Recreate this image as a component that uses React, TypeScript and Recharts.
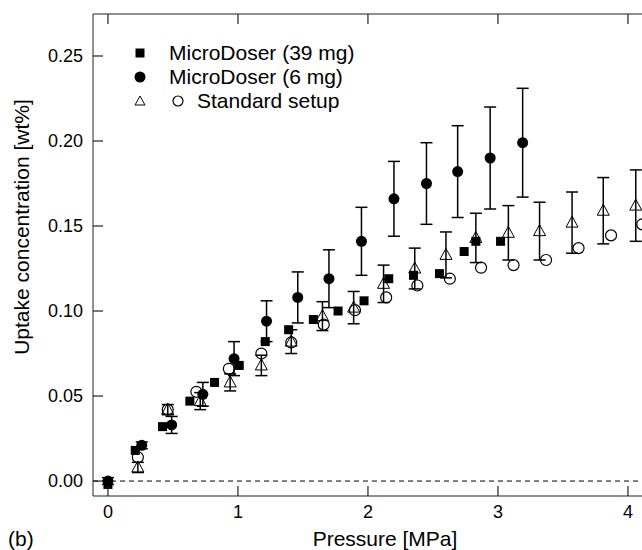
import React from 'react'
import { ScatterChart, Scatter, XAxis, YAxis, ReferenceLine, ErrorBar } from 'recharts'

const FONT = '"Liberation Sans", Arial, Helvetica, sans-serif'

const pressureTicks = [0, 1, 2, 3, 4]
const uptakeTicks = [0, 0.05, 0.1, 0.15, 0.2, 0.25]

// MicroDoser (39 mg) – filled squares
const md39Pressure = [0, 0.21, 0.42, 0.63, 0.82, 1.01, 1.21, 1.39, 1.58, 1.77, 1.97, 2.16, 2.35, 2.55, 2.74, 2.83, 3.02]
const md39Uptake = [-0.002, 0.018, 0.032, 0.047, 0.058, 0.068, 0.082, 0.089, 0.095, 0.1, 0.106, 0.119, 0.121, 0.122, 0.135, 0.141, 0.141]

// MicroDoser (6 mg) – filled circles with error bars
const md6Pressure = [0, 0.26, 0.49, 0.73, 0.97, 1.22, 1.46, 1.7, 1.95, 2.2, 2.45, 2.69, 2.94, 3.19]
const md6Uptake = [0.0, 0.021, 0.033, 0.051, 0.072, 0.094, 0.108, 0.119, 0.141, 0.166, 0.175, 0.182, 0.19, 0.199]
const md6Err = [0.002, 0.002, 0.005, 0.007, 0.01, 0.012, 0.015, 0.017, 0.02, 0.022, 0.024, 0.027, 0.03, 0.032]

// Standard setup – open triangles with error bars
const stdTriPressure = [0.23, 0.46, 0.71, 0.94, 1.18, 1.41, 1.65, 1.89, 2.12, 2.36, 2.6, 2.83, 3.08, 3.32, 3.57, 3.81, 4.06]
const stdTriUptake = [0.008, 0.042, 0.047, 0.058, 0.068, 0.082, 0.097, 0.102, 0.116, 0.125, 0.133, 0.143, 0.146, 0.147, 0.152, 0.159, 0.162]
const stdTriErr = [0.003, 0.003, 0.005, 0.005, 0.006, 0.007, 0.0085, 0.0095, 0.011, 0.012, 0.0135, 0.0145, 0.016, 0.017, 0.018, 0.0195, 0.021]

// Standard setup – open circles
const stdCircPressure = [0.23, 0.46, 0.68, 0.93, 1.18, 1.41, 1.66, 1.9, 2.14, 2.38, 2.63, 2.87, 3.12, 3.37, 3.62, 3.87, 4.11]
const stdCircUptake = [0.014, 0.042, 0.0525, 0.066, 0.075, 0.0815, 0.092, 0.1005, 0.108, 0.115, 0.119, 0.1255, 0.127, 0.13, 0.137, 0.1445, 0.151]

const zip = (xs: number[], ys: number[], errs?: number[]) =>
  xs.map((x, i) => ({ x, y: ys[i], err: errs ? errs[i] : 0 }))

const md39Data = zip(md39Pressure, md39Uptake)
const md6Data = zip(md6Pressure, md6Uptake, md6Err)
const stdTriData = zip(stdTriPressure, stdTriUptake, stdTriErr)
const stdCircData = zip(stdCircPressure, stdCircUptake)

const AXIS = '#222'

const SquareShape = (p: any) => <rect x={p.cx - 4.5} y={p.cy - 4.5} width={9} height={9} fill="#000" />
const DotShape = (p: any) => <circle cx={p.cx} cy={p.cy} r={5.5} fill="#000" />
const TriShape = (p: any) => (
  <polygon
    points={`${p.cx},${p.cy - 6.5} ${p.cx - 6},${p.cy + 4.5} ${p.cx + 6},${p.cy + 4.5}`}
    fill="none"
    stroke="#000"
    strokeWidth={1}
  />
)
const RingShape = (p: any) => <circle cx={p.cx} cy={p.cy} r={5.5} fill="none" stroke="#000" strokeWidth={1.2} />

// ticks point inward, as in the original figure
const BottomTick = (p: any) => (
  <g>
    <line x1={p.x} y1={p.y} x2={p.x} y2={p.y - 10} stroke={AXIS} strokeWidth={1.2} />
    <text x={p.x} y={p.y + 22} textAnchor="middle" fontSize={18} fontFamily={FONT} fill="#000">
      {p.payload.value}
    </text>
  </g>
)

const TopTick = (p: any) => <line x1={p.x} y1={p.y} x2={p.x} y2={p.y + 10} stroke={AXIS} strokeWidth={1.2} />

const LeftTick = (p: any) => (
  <g>
    <line x1={p.x} y1={p.y} x2={p.x + 10} y2={p.y} stroke={AXIS} strokeWidth={1.2} />
    <text x={p.x - 10} y={p.y + 6} textAnchor="end" fontSize={18} fontFamily={FONT} fill="#000">
      {Number(p.payload.value).toFixed(2)}
    </text>
  </g>
)

const LegendRow = ({ top, left, children }: any) => (
  <div style={{ position: 'absolute', top, left, display: 'flex', alignItems: 'center', height: 24 }}>{children}</div>
)

export default function App() {
  const xDomain = [-0.115, 4.108]
  return (
    <div style={{ position: 'absolute', left: 0, top: 0, width: 642, height: 550, background: '#fff', fontFamily: FONT, overflow: 'hidden' }}>
      <ScatterChart width={642} height={550} margin={{ top: 13, right: 0, bottom: 14, left: 33 }}>
        <XAxis
          xAxisId="b"
          type="number"
          dataKey="x"
          domain={xDomain}
          ticks={pressureTicks}
          allowDataOverflow
          height={40}
          tickSize={0}
          tickMargin={0}
          tick={BottomTick}
          stroke={AXIS}
        />
        <XAxis
          xAxisId="t"
          orientation="top"
          type="number"
          dataKey="x"
          domain={xDomain}
          ticks={pressureTicks}
          allowDataOverflow
          height={1}
          tickSize={0}
          tickMargin={0}
          tick={TopTick}
          stroke={AXIS}
        />
        <YAxis
          type="number"
          dataKey="y"
          domain={[-0.0088, 0.2747]}
          ticks={uptakeTicks}
          allowDataOverflow
          width={60}
          tickSize={0}
          tickMargin={0}
          tick={LeftTick}
          stroke={AXIS}
        />
        <ReferenceLine xAxisId="b" y={0} stroke="#000" strokeDasharray="5 4" />
        <Scatter xAxisId="b" data={stdTriData} shape={TriShape} isAnimationActive={false}>
          <ErrorBar dataKey="err" direction="y" width={6} stroke="#000" strokeWidth={1.5} />
        </Scatter>
        <Scatter xAxisId="b" data={stdCircData} shape={RingShape} isAnimationActive={false} />
        <Scatter xAxisId="b" data={md39Data} shape={SquareShape} isAnimationActive={false} />
        <Scatter xAxisId="b" data={md6Data} shape={DotShape} isAnimationActive={false}>
          <ErrorBar dataKey="err" direction="y" width={6} stroke="#000" strokeWidth={1.5} />
        </Scatter>
      </ScatterChart>

      <LegendRow top={41} left={134}>
        <svg width={12} height={12}><rect x={1.5} y={1.5} width={9} height={9} fill="#000" /></svg>
        <span style={{ marginLeft: 23, fontSize: 21 }}>MicroDoser (39 mg)</span>
      </LegendRow>
      <LegendRow top={65} left={134}>
        <svg width={12} height={12}><circle cx={6} cy={6} r={5.5} fill="#000" /></svg>
        <span style={{ marginLeft: 23, fontSize: 21 }}>MicroDoser (6 mg)</span>
      </LegendRow>
      <LegendRow top={89} left={134}>
        <svg width={12} height={12}><polygon points="6,1 1,10 11,10" fill="none" stroke="#000" strokeWidth={1} /></svg>
        <svg width={12} height={12} style={{ marginLeft: 26 }}><circle cx={6} cy={6} r={5} fill="none" stroke="#000" strokeWidth={1.2} /></svg>
        <span style={{ marginLeft: 13, fontSize: 21 }}>Standard setup</span>
      </LegendRow>

      <div
        style={{
          position: 'absolute',
          left: 22,
          top: 227,
          transform: 'translate(-50%, -50%) rotate(-90deg)',
          whiteSpace: 'nowrap',
          fontSize: 21,
        }}
      >
        Uptake concentration [wt%]
      </div>
      <div style={{ position: 'absolute', left: 385, top: 539, transform: 'translate(-50%, -50%)', whiteSpace: 'nowrap', fontSize: 21 }}>
        Pressure [MPa]
      </div>
      <div style={{ position: 'absolute', left: 8, top: 539, transform: 'translateY(-50%)', fontSize: 21 }}>(b)</div>
    </div>
  )
}
